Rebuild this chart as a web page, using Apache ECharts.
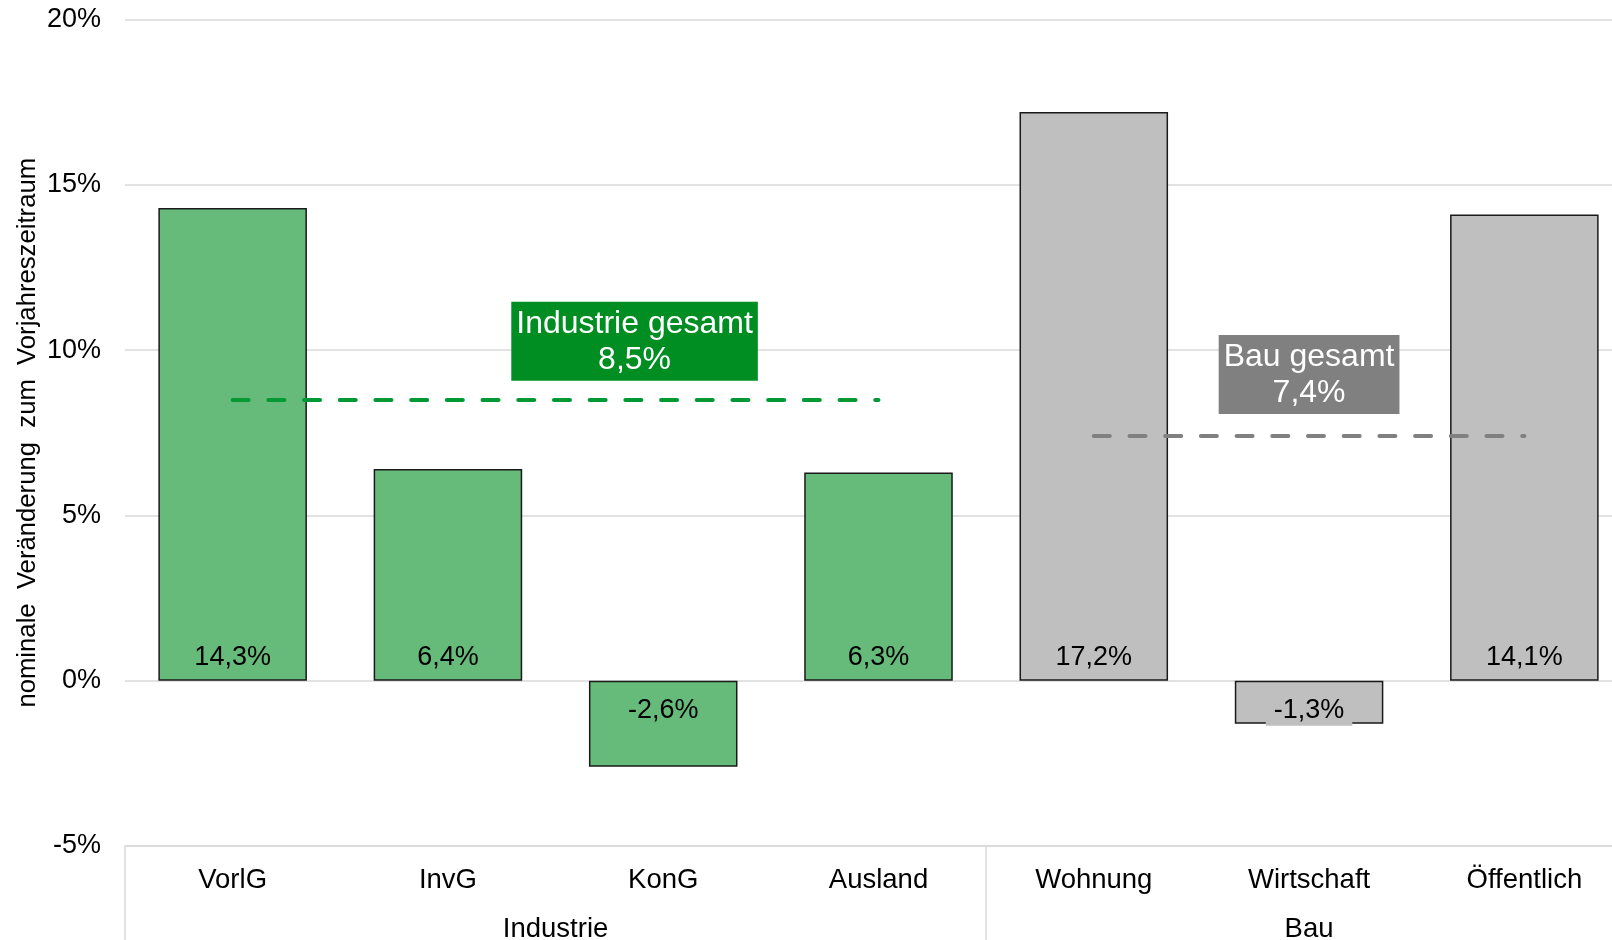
<!DOCTYPE html>
<html>
<head>
<meta charset="utf-8">
<script src="https://cdn.jsdelivr.net/npm/echarts@6/dist/echarts.min.js"></script>
<style>
  html, body { margin: 0; padding: 0; background: #fff; }
  #chart { width: 1612px; height: 940px; }
</style>
</head>
<body>
<div id="chart"></div>
<script>
// Nominal change vs. previous-year period, by demand sector
const categories = ['VorlG', 'InvG', 'KonG', 'Ausland', 'Wohnung', 'Wirtschaft', 'Öffentlich'];
const values = [14.3, 6.4, -2.6, 6.3, 17.2, -1.3, 14.1];
const groupNames = ['Industrie', 'Bau'];
const groupSizes = [4, 3];
const groupTotals = [8.5, 7.4];
const yTicks = [-5, 0, 5, 10, 15, 20];

const FONT = '"Liberation Sans", Arial, Helvetica, sans-serif';
const barColors = ['#66bb7a', '#bfbfbf'];
const totalBoxColors = ['#008e23', '#808080'];
const totalLineColors = ['#009933', '#808080'];

const fmt = v => v.toFixed(1).replace('.', ',') + '%';

// group index for each category + the category index where each group starts
const groupOf = [];
const groupStart = [];
groupSizes.forEach((n, g) => {
  groupStart.push(groupOf.length);
  for (let i = 0; i < n; i++) groupOf.push(g);
});

// half-step slots for the group label axis (labels sit at the middle of each group)
const slotCount = categories.length * 2 + 1;
const groupSlots = new Array(slotCount).fill('');
groupNames.forEach((name, g) => {
  groupSlots[groupStart[g] * 2 + groupSizes[g]] = name;
});

const barData = values.map((v, i) => {
  const c = barColors[groupOf[i]];
  return {
    value: v,
    itemStyle: { color: c },
    label: {
      position: v >= 0 ? 'insideBottom' : 'insideTop',
      distance: v >= 0 ? 8 : 14,
      backgroundColor: c
    }
  };
});

const boxOffsets = [[79, 0], [0, 0]];
const boxDistances = [19, 22];
const totalLines = groupNames.map((name, g) => {
  const first = categories[groupStart[g]];
  const last = categories[groupStart[g] + groupSizes[g] - 1];
  return [
    {
      coord: [first, groupTotals[g]],
      lineStyle: { color: totalLineColors[g], width: 4, type: [16, 19.7], cap: 'round' },
      label: {
        show: true,
        position: 'middle',
        formatter: name + ' gesamt\n' + fmt(groupTotals[g]),
        color: '#fff',
        fontSize: 32,
        lineHeight: 36,
        fontFamily: FONT,
        backgroundColor: totalBoxColors[g],
        padding: [4, 5, 3, 5],
        distance: boxDistances[g],
        offset: boxOffsets[g]
      }
    },
    { coord: [last, groupTotals[g]] }
  ];
});

const chart = echarts.init(document.getElementById('chart'), null, { renderer: 'canvas' });

chart.setOption({
  backgroundColor: '#fff',
  animation: false,
  textStyle: { fontFamily: FONT },
  grid: {
    left: 125, top: 19.5, width: 1507, height: 826.5,
    containLabel: false,
    outerBoundsMode: 'none'
  },
  xAxis: [
    {
      type: 'category',
      data: categories,
      position: 'bottom',
      axisLine: { show: true, onZero: false, lineStyle: { color: '#d9d9d9', width: 1.5 } },
      axisTick: {
        show: true,
        interval: (index) => groupStart.includes(index),
        length: 96,
        lineStyle: { color: '#d9d9d9', width: 1.5 }
      },
      axisLabel: { interval: 0, margin: 20, fontSize: 27.5, color: '#000', fontFamily: FONT },
      splitLine: { show: false }
    },
    {
      type: 'category',
      data: groupSlots,
      boundaryGap: false,
      position: 'bottom',
      axisLine: { show: false, onZero: false },
      axisTick: { show: false },
      axisLabel: { interval: 0, margin: 69, fontSize: 27.5, color: '#000', fontFamily: FONT },
      splitLine: { show: false }
    }
  ],
  yAxis: {
    type: 'value',
    min: yTicks[0],
    max: yTicks[yTicks.length - 1],
    interval: 5,
    name: 'nominale  Veränderung  zum  Vorjahreszeitraum',
    nameLocation: 'middle',
    nameRotate: 90,
    nameGap: 84,
    nameMoveOverlap: false,
    nameTextStyle: { fontSize: 25.7, color: '#000', fontFamily: FONT },
    axisLine: { show: false },
    axisTick: { show: false },
    axisLabel: { margin: 24, fontSize: 27, color: '#000', fontFamily: FONT, formatter: v => v + '%' },
    splitLine: { show: true, lineStyle: { color: '#d9d9d9', width: 1.5 } }
  },
  series: [
    {
      type: 'bar',
      xAxisIndex: 0,
      data: barData,
      barCategoryGap: '31%',
      itemStyle: { borderColor: '#1a1a1a', borderWidth: 1.5 },
      label: {
        show: true,
        formatter: p => fmt(p.value),
        fontSize: 27,
        color: '#000',
        fontFamily: FONT,
        padding: [2, 8]
      },
      markLine: {
        silent: true,
        symbol: ['none', 'none'],
        data: totalLines
      }
    }
  ]
});
</script>
</body>
</html>
